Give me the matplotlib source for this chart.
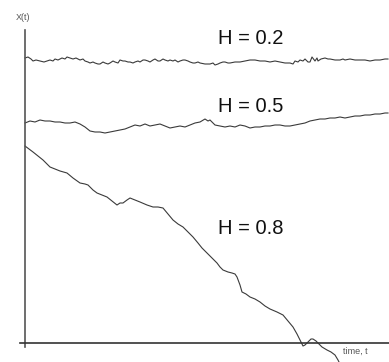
import matplotlib
matplotlib.use('Agg')
import numpy as np
from matplotlib import pyplot as plt

# baseline of the time axis (pixel row in the original figure)
BASE = 343

# H = 0.2 : sampled time positions and heights (screen rows, converted below)
t_02 = [25, 28, 31, 33, 36, 40, 44, 47, 50, 53, 55, 58, 62, 65, 67, 70, 73, 76, 80, 83,
        85, 88, 90, 93, 95, 98, 100, 103, 105, 108, 110, 113, 115, 118, 120, 123, 125, 128,
        130, 133, 135, 138, 140, 143, 145, 148, 150, 153, 155, 158, 160, 163, 165, 168, 170,
        173, 175, 178, 180, 183, 185, 188, 190, 193, 195, 198, 200, 205, 210, 213, 215, 218,
        220, 223, 225, 228, 230, 235, 240, 245, 250, 255, 260, 265, 270, 275, 280, 285, 290,
        293, 295, 298, 300, 303, 305, 308, 310, 312, 315, 317, 318, 321, 325, 328, 330, 335,
        340, 343, 345, 350, 355, 360, 365, 370, 375, 380, 385, 388]
y_02 = [58, 57, 59, 61, 60, 61, 62, 61, 60, 61, 59, 60, 58, 59, 57, 58, 59, 58, 60, 59,
        61, 62, 63, 62, 63, 64, 64, 62, 63, 64, 63, 61, 62, 63, 60, 61, 61, 62,
        62, 63, 62, 61, 62, 60, 60, 61, 62, 60, 59, 61, 61, 59, 60, 61, 60,
        61, 60, 62, 61, 60, 60, 61, 62, 63, 63, 62, 63, 64, 64, 63, 65, 64,
        63, 62, 62, 63, 63, 62, 62, 61, 60, 60, 61, 61, 62, 61, 62, 63, 63,
        64, 61, 62, 60, 61, 59, 62, 62, 57, 61, 58, 61, 59, 58, 59, 59, 60,
        60, 59, 60, 59, 60, 60, 60, 61, 60, 60, 59, 59]

# H = 0.5
t_05 = [25, 30, 35, 40, 45, 50, 55, 60, 65, 70, 75, 80, 85, 90, 95, 100, 105, 110, 115,
        120, 125, 130, 135, 140, 145, 150, 155, 160, 165, 170, 175, 180, 185, 190, 195,
        200, 205, 208, 210, 215, 220, 225, 230, 235, 240, 245, 250, 255, 260, 265, 270,
        275, 280, 285, 290, 295, 300, 305, 310, 315, 320, 325, 330, 335, 340, 345, 350,
        355, 360, 365, 370, 375, 380, 385, 388]
y_05 = [123, 121, 122, 120, 121, 121, 122, 122, 123, 123, 122, 124, 127, 131, 132, 132,
        133, 132, 131, 130, 129, 127, 125, 126, 124, 126, 125, 124, 126, 128, 127, 126,
        127, 125, 123, 122, 119, 121, 120, 125, 126, 127, 126, 127, 125, 126, 128, 127,
        127, 126, 126, 125, 125, 126, 126, 125, 124, 123, 121, 120, 119, 119, 118, 118,
        117, 118, 117, 116, 116, 115, 115, 114, 114, 113, 113]

# H = 0.8
t_08 = [25, 29, 33, 38, 43, 47, 50, 55, 60, 67, 73, 80, 85, 88, 93, 97, 102, 107, 112,
        117, 120, 123, 127, 130, 135, 140, 147, 153, 158, 163, 168, 173, 178, 183, 188,
        193, 198, 202, 207, 212, 217, 220, 223, 228, 232, 235, 237, 240, 242, 246, 250,
        255, 260, 265, 270, 277, 283, 288, 293, 297, 300, 303, 305, 308, 311, 313, 316,
        318, 322, 327, 331, 335, 338, 340]
y_08 = [146, 149, 152, 156, 160, 164, 167, 169, 171, 173, 178, 183, 184, 185, 190, 193,
        195, 197, 201, 205, 203, 203, 200, 198, 200, 202, 205, 207, 207, 208, 214, 220,
        224, 227, 232, 237, 243, 248, 253, 258, 263, 267, 270, 272, 273, 274, 277, 285,
        292, 294, 297, 299, 302, 306, 309, 312, 315, 321, 327, 334, 340, 346, 345, 342,
        339, 339, 341, 343, 347, 350, 352, 355, 360, 364]

labels = ['H = 0.2', 'H = 0.5', 'H = 0.8']
label_pos = [(218, 38), (218, 107), (218, 228)]

fig = plt.figure(figsize=(3.89, 3.62), dpi=100)
ax = fig.add_axes([0, 0, 1, 1])
ax.set_xlim(0, 389)
ax.set_ylim(BASE - 362, BASE)

for t, y in [(t_02, y_02), (t_05, y_05), (t_08, y_08)]:
    ax.plot(t, BASE - np.array(y), color='#3a3a3a', lw=0.8)

for lab, (x, y) in zip(labels, label_pos):
    ax.text(x, BASE - y, lab, fontsize=14.5, family='Liberation Sans',
            va='center', ha='left', color='#111111')

# axes drawn as spines
for s in ['top', 'right']:
    ax.spines[s].set_visible(False)
ax.spines['left'].set_position(('data', 25))
ax.spines['left'].set_bounds(BASE - 347, BASE - 30)
ax.spines['bottom'].set_position(('data', 0))
ax.spines['bottom'].set_bounds(20, 389)
ax.spines['left'].set_color('#555555')
ax.spines['bottom'].set_color('#333333')
ax.spines['left'].set_linewidth(1.2)
ax.spines['bottom'].set_linewidth(1.2)
ax.set_xticks([])
ax.set_yticks([])
ax.patch.set_alpha(0)

ax.text(16, BASE - 17, 'X(t)', fontsize=6.5, family='Liberation Sans',
        color='#555555', va='center', ha='left')
ax.text(343, BASE - 351, 'time, t', fontsize=6.5, family='Liberation Sans',
        color='#555555', va='center', ha='left')

fig.savefig('out.png', dpi=100)
